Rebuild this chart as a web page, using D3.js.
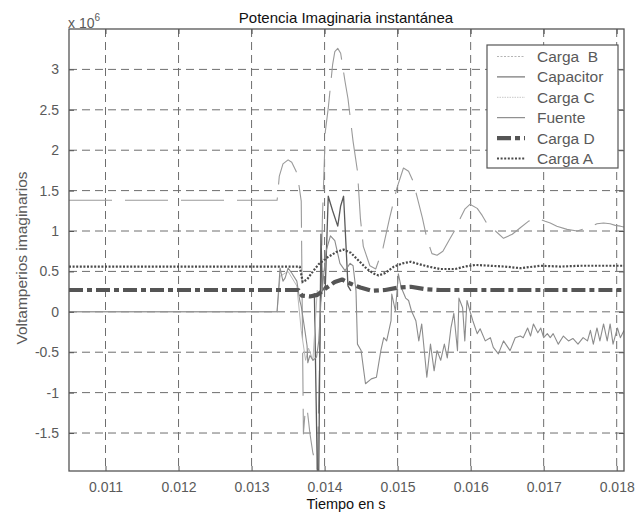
<!DOCTYPE html>
<html>
<head>
<meta charset="utf-8">
<script src="https://cdn.jsdelivr.net/npm/d3@7"></script>
<style>
  html, body { margin: 0; padding: 0; background: #fff; }
  svg { display: block; font-family: Arial, "Liberation Sans", Helvetica, sans-serif; }
</style>
</head>
<body>
<svg id="chart" width="637" height="515"></svg>
<script>
// Instantaneous reactive power, values in units of 10^6 VAr, time in seconds.
const xTicks = [0.011, 0.012, 0.013, 0.014, 0.015, 0.016, 0.017, 0.018];
const yTicks = [-1.5, -1, -0.5, 0, 0.5, 1, 1.5, 2, 2.5, 3];

const cargaB = [
  [0.0105, 1.38], [0.01335, 1.38], [0.01338, 1.68], [0.01343, 1.83], [0.0135, 1.88],
  [0.01355, 1.85], [0.01361, 1.74], [0.01365, 1.56], [0.01368, 1.37], [0.01371, -1.51],
  [0.01373, -1.28], [0.01376, -1.19], [0.0138, -1.51], [0.01384, -1.75], [0.0139, -1.94],
  [0.01394, -0.23], [0.01397, 1.16], [0.01401, 2.23], [0.01405, 2.52], [0.01411, 3.06],
  [0.01414, 3.22], [0.01418, 3.26], [0.01422, 3.2], [0.01428, 2.85], [0.01432, 2.64],
  [0.01439, 2.11], [0.01445, 1.74], [0.01449, 1.16], [0.01453, 0.81], [0.01462, 0.57],
  [0.0147, 0.53], [0.0148, 0.79], [0.01489, 1.16], [0.01499, 1.53], [0.01508, 1.78],
  [0.01515, 1.74], [0.01521, 1.62], [0.01527, 1.41], [0.01534, 1.16], [0.0154, 0.91],
  [0.01547, 0.72], [0.01554, 0.70], [0.01562, 0.75], [0.01572, 0.91], [0.01579, 1.02],
  [0.01586, 1.16], [0.01592, 1.27], [0.01599, 1.33], [0.01609, 1.28], [0.01616, 1.19],
  [0.01627, 1.02], [0.01634, 1.0], [0.01645, 0.91], [0.01657, 0.96], [0.01668, 1.04],
  [0.01679, 1.12], [0.01691, 1.16], [0.01702, 1.12], [0.01709, 1.10], [0.01718, 1.06],
  [0.01732, 1.02], [0.01746, 1.0], [0.0176, 1.04], [0.01773, 1.09], [0.01782, 1.10],
  [0.01791, 1.09], [0.01798, 1.07], [0.01805, 1.06], [0.0181, 1.05]
];

const capacitor = [
  [0.01386, 0.23], [0.0139, -1.96], [0.01392, -1.96], [0.01395, 0.96], [0.01397, 0.26],
  [0.01401, 0.32], [0.01405, 1.43], [0.01411, 1.25], [0.01418, 1.06], [0.01422, 1.31],
  [0.01426, 1.43], [0.01429, 0.88], [0.01432, 0.32], [0.01436, 0.26]
];

const cargaC = [
  [0.0105, 0], [0.01335, 0], [0.01339, 0.44], [0.0135, 0.5], [0.01362, 0.32],
  [0.01368, -0.23], [0.01374, -0.6], [0.01378, -0.45], [0.01384, -0.6], [0.0139, 0.27]
];

const fuente = [
  [0.0105, 0], [0.013349, 0], [0.01339, 0.54], [0.01343, 0.38], [0.01346, 0.42],
  [0.0135, 0.54], [0.01355, 0.48], [0.01362, 0.38], [0.01366, 0.14], [0.01368, 0.07],
  [0.01373, -0.23], [0.01376, -0.42], [0.01377, -0.63], [0.0138, -0.54], [0.01384, -0.6],
  [0.01389, -0.56], [0.01392, -0.36], [0.01395, 0.14], [0.01398, 0.38], [0.01402, 0.75],
  [0.01408, 0.94], [0.01414, 0.88], [0.01421, 0.6], [0.01428, 0.51], [0.01435, 0.6],
  [0.01439, 0.57], [0.01443, 0.26], [0.01445, -0.4], [0.0145, -0.48], [0.01456, -0.89],
  [0.01464, -0.83], [0.01471, -0.81], [0.01477, -0.48], [0.01481, -0.32], [0.01485, -0.36],
  [0.01491, -0.11], [0.01492, 0.22], [0.01497, 0.01], [0.01501, 0.47], [0.01505, 0.30],
  [0.01511, 0.17], [0.01515, 0.14], [0.01519, 0.01], [0.01525, -0.11], [0.01529, -0.36],
  [0.01533, -0.15], [0.0154, -0.81], [0.01545, -0.40], [0.0155, -0.73], [0.01554, -0.48],
  [0.01559, -0.60], [0.01564, -0.40], [0.01568, -0.57], [0.01573, -0.20], [0.01577, -0.02],
  [0.01582, -0.48], [0.01584, 0.17], [0.01589, 0.05], [0.01592, -0.36], [0.01595, 0.14],
  [0.01599, 0.01], [0.01603, -0.11], [0.01609, -0.27], [0.01613, -0.21], [0.0162, -0.36],
  [0.01627, -0.32], [0.01631, -0.44], [0.01638, -0.52], [0.01645, -0.36], [0.01651, -0.44],
  [0.01654, -0.48], [0.01661, -0.32], [0.01668, -0.30], [0.01672, -0.32], [0.01678, -0.20],
  [0.01682, -0.30], [0.01686, -0.15], [0.01692, -0.26], [0.01696, -0.20], [0.017, -0.32],
  [0.01705, -0.27], [0.01709, -0.32], [0.01713, -0.27], [0.0172, -0.40], [0.01727, -0.30],
  [0.01734, -0.36], [0.0174, -0.33], [0.01747, -0.40], [0.01754, -0.32], [0.0176, -0.36],
  [0.01764, -0.23], [0.01768, -0.40], [0.01773, -0.20], [0.01777, -0.36], [0.01782, -0.15],
  [0.01787, -0.36], [0.01791, -0.15], [0.01795, -0.40], [0.01801, -0.20], [0.01805, -0.32],
  [0.0181, -0.23]
];

const cargaD = [
  [0.0105, 0.27], [0.01364, 0.27], [0.01369, 0.2], [0.0138, 0.19], [0.0139, 0.21],
  [0.01403, 0.3], [0.01414, 0.37], [0.01424, 0.4], [0.01435, 0.35], [0.01449, 0.3],
  [0.01465, 0.26], [0.01483, 0.27], [0.01501, 0.3], [0.01518, 0.31], [0.01538, 0.28],
  [0.01558, 0.27], [0.0181, 0.27]
];

const cargaA = [
  [0.0105, 0.56], [0.01366, 0.56], [0.0137, 0.37], [0.01376, 0.40], [0.01384, 0.50],
  [0.01392, 0.59], [0.01405, 0.68], [0.01416, 0.74], [0.01426, 0.77], [0.01436, 0.73],
  [0.01447, 0.63], [0.01458, 0.53], [0.01468, 0.47], [0.01474, 0.45], [0.01483, 0.48],
  [0.01495, 0.56], [0.01507, 0.60], [0.01518, 0.62], [0.01529, 0.59], [0.01542, 0.56],
  [0.01558, 0.53], [0.01579, 0.53], [0.01592, 0.56], [0.01606, 0.58], [0.01627, 0.57],
  [0.01647, 0.56], [0.01668, 0.54], [0.01696, 0.57], [0.01723, 0.56], [0.0175, 0.57],
  [0.01777, 0.57], [0.0181, 0.57]
];

const seriesNames = ["Carga  B", "Capacitor", "Carga C", "Fuente", "Carga D", "Carga A"];

// Drawing styles per series (plot stroke + legend sample stroke)
const styles = [
  { data: cargaB,    color: "#9a9a9a", width: 1.1, dash: "43,13", legendColor: "#b5b5b5", legendDash: "2,1.5", legendWidth: 1.2 },
  { data: capacitor, color: "#5a5a5a", width: 1.3, dash: null,    legendColor: "#666",    legendDash: null,    legendWidth: 1.1 },
  { data: cargaC,    color: "#b8b8b8", width: 1.0, dash: null,    legendColor: "#c8c8c8", legendDash: "1.5,1", legendWidth: 1.0 },
  { data: fuente,    color: "#8c8c8c", width: 1.1, dash: null,    legendColor: "#777",    legendDash: null,    legendWidth: 1.0 },
  { data: cargaD,    color: "#555",    width: 4.2, dash: "14,4,5,4", legendColor: "#555", legendDash: "14,4,5,4", legendWidth: 4.2 },
  { data: cargaA,    color: "#4a4a4a", width: 2.2, dash: "2,1.6", legendColor: "#4a4a4a", legendDash: "2,1.6", legendWidth: 2.2 }
];

const W = 637, H = 515;
const margin = { left: 69, top: 29, right: 13, bottom: 44 };
const iw = W - margin.left - margin.right;
const ih = H - margin.top - margin.bottom;

const svg = d3.select("#chart");
const g = svg.append("g").attr("transform", `translate(${margin.left},${margin.top})`);

const x = d3.scaleLinear().domain([0.0105, 0.0181]).range([0, iw]);
const y = d3.scaleLinear().domain([-1.97, 3.5]).range([ih, 0]);

svg.append("defs").append("clipPath").attr("id", "plotclip")
  .append("rect").attr("width", iw).attr("height", ih);

// dashed grid
const gridColor = "#6e6e6e";
g.append("g").selectAll("line").data(xTicks).join("line")
  .attr("x1", d => x(d)).attr("x2", d => x(d))
  .attr("y1", 0).attr("y2", ih)
  .attr("stroke", gridColor).attr("stroke-width", 1).attr("stroke-dasharray", "8,5");
g.append("g").selectAll("line").data(yTicks).join("line")
  .attr("x1", 0).attr("x2", iw)
  .attr("y1", d => y(d)).attr("y2", d => y(d))
  .attr("stroke", gridColor).attr("stroke-width", 1).attr("stroke-dasharray", "8,5");

// series
const line = d3.line().x(d => x(d[0])).y(d => y(d[1]));
const plot = g.append("g").attr("clip-path", "url(#plotclip)");
styles.forEach(s => {
  plot.append("path")
    .datum(s.data)
    .attr("fill", "none")
    .attr("stroke", s.color)
    .attr("stroke-width", s.width)
    .attr("stroke-linejoin", "round")
    .attr("stroke-dasharray", s.dash);
});
plot.selectAll("path").each(function(d, i) { d3.select(this).attr("d", line(d)); });

// axes: ticks pointing inward on all four sides
const tickColor = "#555";
const labelColor = "#5a5a5a";
const xAxis = d3.axisBottom(x).tickValues(xTicks).tickFormat(d3.format(".3f")).tickSizeInner(-5).tickSizeOuter(0).tickPadding(11);
const yAxis = d3.axisLeft(y).tickValues(yTicks).tickFormat(d => String(d)).tickSizeInner(-5).tickSizeOuter(0).tickPadding(10);
const xTop = d3.axisTop(x).tickValues(xTicks).tickFormat("").tickSizeInner(-5).tickSizeOuter(0);
const yRight = d3.axisRight(y).tickValues(yTicks).tickFormat("").tickSizeInner(-5).tickSizeOuter(0);

function styleAxis(sel) {
  sel.select(".domain").remove();
  sel.selectAll(".tick line").attr("stroke", tickColor);
  sel.selectAll(".tick text").attr("fill", labelColor)
    .style("font-size", "14px").style("font-family", "Arial, 'Liberation Sans', sans-serif");
}
g.append("g").attr("transform", `translate(0,${ih})`).call(xAxis).call(styleAxis);
g.append("g").call(yAxis).call(styleAxis);
g.append("g").call(xTop).call(styleAxis);
g.append("g").attr("transform", `translate(${iw},0)`).call(yRight).call(styleAxis);

// frame
g.append("rect").attr("width", iw).attr("height", ih)
  .attr("fill", "none").attr("stroke", "#555").attr("stroke-width", 1.3);

// exponent label
const expo = svg.append("text").attr("x", 68).attr("y", 28)
  .attr("fill", labelColor).style("font-size", "14px");
expo.append("tspan").text("x 10");
expo.append("tspan").attr("dy", -7).style("font-size", "10px").text("6");

// title and axis labels
svg.append("text").attr("x", 346).attr("y", 23).attr("text-anchor", "middle")
  .attr("fill", "#111").style("font-size", "15px").text("Potencia Imaginaria instantánea");
svg.append("text").attr("x", 346).attr("y", 509).attr("text-anchor", "middle")
  .attr("fill", "#111").style("font-size", "14.5px").text("Tiempo en s");
svg.append("text").attr("transform", "translate(27,258) rotate(-90)").attr("text-anchor", "middle")
  .attr("fill", labelColor).style("font-size", "15.5px").text("Voltamperios imaginarios");

// legend
const lg = svg.append("g").attr("transform", "translate(487,45)");
lg.append("rect").attr("width", 131).attr("height", 123)
  .attr("fill", "#fff").attr("stroke", "#555").attr("stroke-width", 1.2);
seriesNames.forEach((name, i) => {
  const s = styles[i];
  const yy = 11.5 + i * 20.4;
  lg.append("line").attr("x1", 10).attr("x2", 38).attr("y1", yy).attr("y2", yy)
    .attr("stroke", s.legendColor).attr("stroke-width", s.legendWidth)
    .attr("stroke-dasharray", s.legendDash);
  lg.append("text").attr("x", 50).attr("y", yy + 5.5)
    .attr("fill", labelColor).style("font-size", "15.5px")
    .style("white-space", "pre").attr("xml:space", "preserve").text(name);
});
</script>
</body>
</html>
